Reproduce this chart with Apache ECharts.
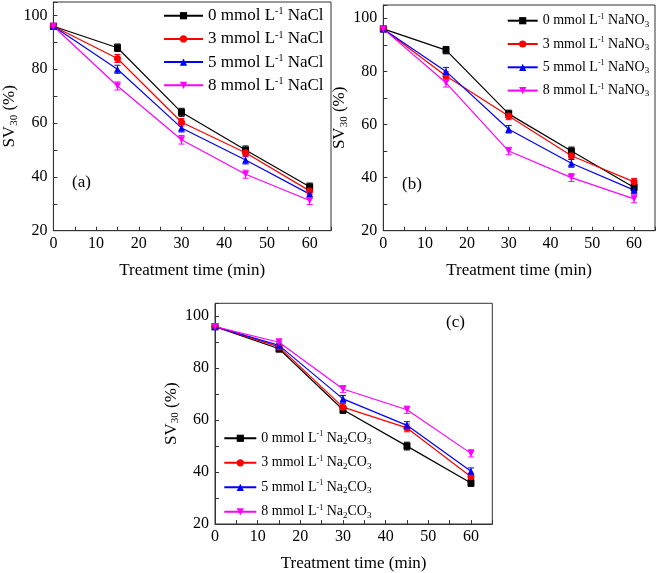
<!DOCTYPE html>
<html><head><meta charset="utf-8">
<script src="https://cdn.jsdelivr.net/npm/echarts@6/dist/echarts.min.js"></script>
<style>html,body{margin:0;padding:0;background:#fff}#c{width:661px;height:573px}</style>
</head><body><div id="c"></div>
<script>
const time = [0, 15, 30, 45, 60];
const conc = ['0', '3', '5', '8'];
// (a) NaCl
const nacl0 = [96, 88, 64, 50, 36.3];
const nacl3 = [96, 84, 60.3, 49, 34.8];
const nacl5 = [96, 80, 58.2, 46.3, 33.6];
const nacl8 = [96, 73.8, 53.8, 41, 31.2];
const naclErr0 = [0.6, 1.4, 1.5, 1.5, 1.4];
const naclErr3 = [0.6, 1.5, 1.4, 1.5, 1.4];
const naclErr5 = [0.6, 1.5, 1.5, 1.5, 1.4];
const naclErr8 = [0.6, 1.5, 1.6, 1.5, 1.5];
// (b) NaNO3
const nano0 = [96, 88, 64, 50, 36.3];
const nano3 = [96, 78.3, 63.2, 48.2, 38.4];
const nano5 = [96, 80, 58.2, 45.4, 35.3];
const nano8 = [96, 75.7, 50, 40, 32];
const nanoErr0 = [0.6, 1.4, 1.4, 1.5, 1.4];
const nanoErr3 = [0.6, 1.5, 1.4, 1.4, 1.3];
const nanoErr5 = [0.6, 1.5, 1.4, 1.5, 1.4];
const nanoErr8 = [0.6, 1.6, 1.4, 1.5, 1.5];
// (c) Na2CO3
const carb0 = [96, 87.5, 64, 50, 35.8];
const carb3 = [96, 88.2, 65, 57, 38.2];
const carb5 = [96, 88.8, 68.2, 58, 40.3];
const carb8 = [96, 90, 72, 64, 47.2];
const carbErr0 = [0.6, 1.3, 1.4, 1.5, 1.3];
const carbErr3 = [0.6, 1.3, 1.4, 1.5, 1.3];
const carbErr5 = [0.6, 1.3, 1.3, 1.4, 1.3];
const carbErr8 = [0.6, 1.3, 1.3, 1.4, 1.4];

const xTicks = [0, 10, 20, 30, 40, 50, 60];
const yTicks = [20, 40, 60, 80, 100];
const xLabel = 'Treatment time (min)';

const colors = ['#000000', '#ff0000', '#0000ff', '#ff00ff'];
const symbols = ['rect', 'circle', 'triangle', 'path://M0,0 L10,0 L5,10 Z'];
const FONT = '"Liberation Serif", "Times New Roman", serif';

const panels = [
  {salt: 'NaCl', vals: [nacl0, nacl3, nacl5, nacl8], errs: [naclErr0, naclErr3, naclErr5, naclErr8]},
  {salt: 'NaNO3', vals: [nano0, nano3, nano5, nano8], errs: [nanoErr0, nanoErr3, nanoErr5, nanoErr8]},
  {salt: 'Na2CO3', vals: [carb0, carb3, carb5, carb8], errs: [carbErr0, carbErr3, carbErr5, carbErr8]}
];

const grids = [
  {left: 48.3, top: 2, width: 282.7, height: 228.7},
  {left: 383.3, top: 5, width: 271.7, height: 225.7},
  {left: 215, top: 303.3, width: 277.3, height: 226.7}
];

function errRender(params, api) {
  const x = api.value(0), y = api.value(1), e = api.value(2);
  const hi = api.coord([x, y + e]), lo = api.coord([x, y - e]);
  const w = 3;
  const style = {stroke: api.visual('color'), lineWidth: 1};
  return {type: 'group', children: [
    {type: 'line', shape: {x1: hi[0], y1: hi[1], x2: lo[0], y2: lo[1]}, style: style},
    {type: 'line', shape: {x1: hi[0] - w, y1: hi[1], x2: hi[0] + w, y2: hi[1]}, style: style},
    {type: 'line', shape: {x1: lo[0] - w, y1: lo[1], x2: lo[0] + w, y2: lo[1]}, style: style}
  ]};
}

function seriesName(salt, c) { return c + ' mmol L-1 ' + salt; }
function legendFmt(name) {
  const parts = name.split(' mmol L-1 ');
  const c = parts[0], salt = parts[1];
  let s = '{n|' + c + ' mmol L}{sup|-1}{n| }';
  if (salt === 'NaCl') s += '{n|NaCl}';
  else if (salt === 'NaNO3') s += '{n|NaNO}{sub|3}';
  else s += '{n|Na}{sub|2}{n|CO}{sub|3}';
  return s;
}

const series = [];
const legends = [];
const legendPos = [
  {left: 163, top: 6.7, itemWidth: 39, fs: 17, lh: 18, gap: 5.7},
  {left: 506.7, top: 12.7, itemWidth: 30, fs: 14, lh: 16, gap: 7.3},
  {left: 223.3, top: 430.3, itemWidth: 32, fs: 14, lh: 16, gap: 8.5}
];
panels.forEach((p, pi) => {
  const names = [];
  p.vals.forEach((v, si) => {
    const name = seriesName(p.salt, conc[si]);
    names.push(name);
    series.push({
      type: 'custom', xAxisIndex: pi, yAxisIndex: pi, renderItem: errRender,
      itemStyle: {color: colors[si]}, z: 2, silent: true,
      data: time.map((t, i) => [t, v[i], p.errs[si][i]])
    });
    series.push({
      name: name, type: 'line', xAxisIndex: pi, yAxisIndex: pi,
      symbol: symbols[si], symbolSize: 7, showSymbol: true,
      lineStyle: {color: colors[si], width: 1.2},
      itemStyle: {color: colors[si]}, z: 3,
      data: time.map((t, i) => [t, v[i]])
    });
  });
  const lp = legendPos[pi];
  legends.push({
    data: names, orient: 'vertical', left: lp.left, top: lp.top,
    itemWidth: lp.itemWidth, itemHeight: 9, itemGap: lp.gap, padding: 0,
    formatter: legendFmt,
    textStyle: {
      fontFamily: FONT, color: '#000',
      rich: {
        n: {fontFamily: FONT, fontSize: lp.fs, lineHeight: lp.lh, color: '#000'},
        sup: {fontFamily: FONT, fontSize: Math.round(lp.fs * 0.6), lineHeight: lp.lh, verticalAlign: 'top', color: '#000'},
        sub: {fontFamily: FONT, fontSize: Math.round(lp.fs * 0.65), lineHeight: lp.lh, verticalAlign: 'bottom', color: '#000'}
      }
    }
  });
});

const axisCol = '#333';
const xAxes = grids.map((g, i) => ({
  type: 'value', gridIndex: i, min: 0, max: 65, interval: 5,
  axisLine: {show: true, onZero: false, lineStyle: {color: axisCol}},
  axisTick: {show: true, inside: true, length: 4, lineStyle: {color: axisCol}},
  splitLine: {show: false},
  axisLabel: {fontFamily: FONT, fontSize: 16, color: '#000', margin: 5,
    formatter: v => xTicks.indexOf(v) >= 0 ? String(v) : ''},
  name: xLabel, nameLocation: 'middle', nameGap: 31,
  nameTextStyle: {fontFamily: FONT, fontSize: 17, color: '#000'}
}));
const yAxes = grids.map((g, i) => ({
  type: 'value', gridIndex: i, min: 20, max: 105, interval: 10,
  axisLine: {show: true, onZero: false, lineStyle: {color: axisCol}},
  axisTick: {show: true, inside: true, length: 4, lineStyle: {color: axisCol}},
  splitLine: {show: false},
  axisLabel: {fontFamily: FONT, fontSize: 16, color: '#000', margin: 6,
    formatter: v => yTicks.indexOf(v) >= 0 ? String(v) : ''},
  name: '{a|SV}{s|30}{a| (%)}', nameLocation: 'middle', nameGap: 32, nameRotate: 90,
  nameTextStyle: {
    fontFamily: FONT, color: '#000',
    rich: {
      a: {fontFamily: FONT, fontSize: 17, lineHeight: 20, color: '#000'},
      s: {fontFamily: FONT, fontSize: 11, lineHeight: 20, verticalAlign: 'bottom', color: '#000'}
    }
  }
}));

const chart = echarts.init(document.getElementById('c'), null, {renderer: 'canvas'});
chart.setOption({
  backgroundColor: '#fff',
  animation: false,
  grid: grids.map(g => Object.assign({show: true, borderColor: axisCol, borderWidth: 1, backgroundColor: 'transparent', containLabel: false}, g)),
  xAxis: xAxes,
  yAxis: yAxes,
  legend: legends,
  series: series,
  graphic: [
    {type: 'text', left: 72, top: 174, style: {text: '(a)', font: '17px ' + FONT, fill: '#000'}},
    {type: 'text', left: 402, top: 176, style: {text: '(b)', font: '17px ' + FONT, fill: '#000'}},
    {type: 'text', left: 446, top: 314, style: {text: '(c)', font: '17px ' + FONT, fill: '#000'}}
  ]
});
</script>
</body></html>
